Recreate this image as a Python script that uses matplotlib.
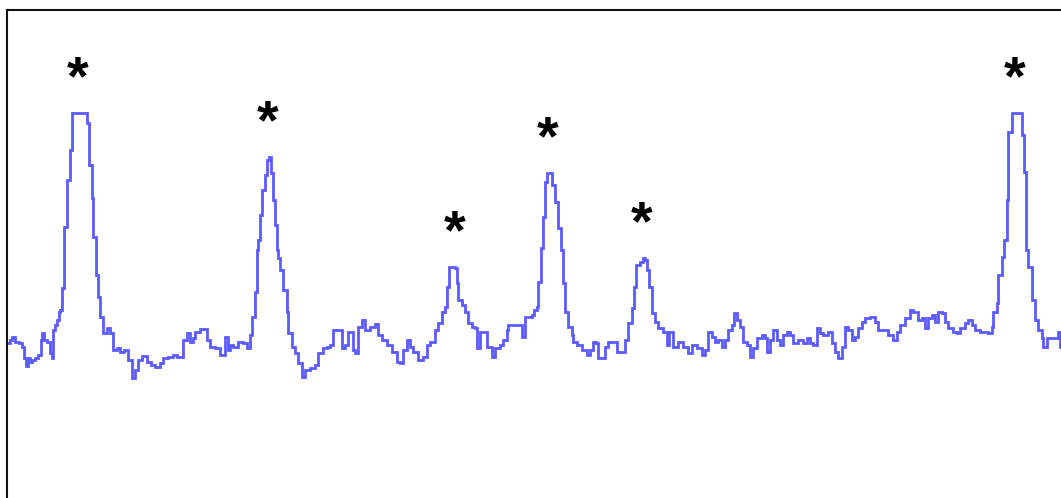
import numpy as np
import matplotlib
matplotlib.use("Agg")
import matplotlib.pyplot as plt

# Channel positions where the recorded intensity changes (step trace)
channel = [
    7, 10, 12, 15, 19, 22, 24, 26, 28, 30, 32, 35, 38, 41, 42, 44, 47, 50, 52, 53,
    55, 57, 59, 60, 62, 64, 67, 70, 72, 78, 85, 87, 89, 92, 93, 96, 98, 100, 103, 107,
    110, 113, 117, 120, 124, 128, 132, 135, 138, 142, 147, 151, 155, 160, 163, 168, 173, 177, 180, 183,
    187, 190, 193, 195, 200, 203, 207, 210, 215, 220, 225, 228, 230, 233, 238, 243, 247, 250, 252, 255,
    257, 258, 260, 262, 265, 267, 269, 271, 273, 275, 277, 278, 280, 283, 287, 288, 292, 295, 298, 302,
    305, 310, 315, 318, 323, 327, 330, 333, 338, 342, 345, 348, 350, 353, 355, 358, 362, 365, 370, 375,
    378, 382, 387, 392, 397, 400, 403, 407, 410, 413, 418, 423, 427, 430, 435, 438, 442, 445, 447, 449,
    455, 457, 458, 462, 465, 468, 472, 475, 477, 480, 485, 487, 492, 495, 500, 503, 507, 508, 513, 520,
    522, 525, 532, 534, 537, 538, 541, 543, 545, 547, 550, 552, 555, 558, 561, 563, 565, 568, 572, 573,
    577, 582, 587, 590, 593, 596, 598, 603, 605, 608, 613, 617, 622, 625, 628, 632, 634, 636, 640, 643,
    645, 647, 649, 652, 655, 658, 663, 667, 669, 673, 678, 683, 688, 692, 697, 702, 705, 708, 712, 715,
    718, 722, 725, 728, 732, 734, 737, 740, 743, 747, 750, 753, 757, 762, 765, 767, 770, 773, 777, 780,
    783, 787, 790, 793, 798, 803, 807, 810, 813, 817, 820, 823, 828, 832, 835, 838, 842, 845, 848, 852,
    855, 858, 862, 865, 870, 875, 878, 883, 888, 893, 897, 900, 905, 910, 913, 918, 922, 925, 928, 932,
    935, 938, 942, 945, 948, 953, 957, 960, 965, 968, 972, 975, 980, 985, 988, 992, 993, 997, 998, 1002,
    1004, 1007, 1008, 1012, 1019, 1022, 1024, 1026, 1028, 1032, 1035, 1038, 1042, 1043, 1047, 1053, 1058, 1060, 1064,
]

# Intensity recorded at each channel (arbitrary units)
intensity = [
    57, 60, 63, 58, 57, 53, 42, 34, 42, 38, 40, 42, 45, 60, 67, 60, 58, 47, 42, 70,
    75, 80, 88, 90, 112, 173, 220, 250, 287, 287, 287, 277, 235, 202, 163, 125, 103, 83, 67, 72,
    67, 50, 52, 48, 50, 40, 22, 30, 40, 44, 38, 35, 33, 37, 42, 43, 45, 43, 43, 60,
    67, 58, 62, 68, 71, 71, 60, 53, 52, 45, 63, 50, 55, 53, 58, 57, 52, 65, 83, 108,
    150, 160, 185, 210, 225, 240, 243, 227, 200, 175, 150, 142, 130, 110, 88, 67, 53, 47, 37, 23,
    30, 32, 35, 47, 52, 53, 55, 70, 70, 52, 55, 68, 68, 50, 47, 73, 80, 70, 73, 76,
    65, 60, 55, 48, 38, 37, 50, 60, 53, 48, 40, 43, 55, 58, 70, 77, 88, 93, 113, 133,
    132, 117, 100, 95, 88, 77, 73, 72, 52, 68, 68, 53, 43, 52, 55, 60, 70, 75, 75, 75,
    63, 83, 85, 90, 93, 118, 152, 183, 218, 227, 227, 215, 198, 172, 150, 117, 88, 73, 65, 58,
    55, 50, 45, 50, 58, 57, 42, 42, 53, 58, 58, 48, 48, 60, 77, 92, 113, 135, 138, 142,
    140, 130, 113, 87, 78, 72, 68, 55, 68, 53, 58, 53, 47, 55, 52, 45, 50, 68, 63, 58,
    60, 53, 60, 70, 75, 87, 80, 73, 58, 55, 43, 52, 62, 65, 62, 48, 60, 70, 60, 55,
    65, 68, 65, 57, 60, 57, 62, 57, 55, 72, 67, 65, 68, 57, 48, 42, 53, 73, 70, 60,
    63, 72, 78, 82, 83, 78, 70, 70, 65, 60, 68, 75, 82, 90, 88, 80, 82, 72, 82, 85,
    78, 88, 87, 78, 72, 68, 67, 72, 77, 80, 75, 70, 68, 68, 67, 73, 88, 97, 125, 143,
    160, 200, 268, 287, 287, 265, 228, 150, 133, 100, 80, 70, 62, 53, 62, 62, 68, 53, 55,
]

# Channels of the marked peaks
peak_channels = [78, 268, 455, 548, 642, 1015]

W, H = 1061, 498
fig = plt.figure(figsize=(W / 100, H / 100), dpi=100)
# Frame runs past the right and bottom edges of the figure
x0, x1 = 7, 1078
y_top, y_bot = 10, 525
ax = fig.add_axes([x0 / W, 1 - y_bot / H, (x1 - x0) / W, (y_bot - y_top) / H])
ax.set_xlim(x0, x1)
ax.set_ylim(400 - y_bot, 400 - y_top)

ch = np.asarray(channel, dtype=float)
val = np.asarray(intensity, dtype=float)
ax.step(ch, val, where="post", color="#5b5bff", lw=2.0, solid_joinstyle="miter")

for pc in peak_channels:
    idx = np.searchsorted(ch, pc, side="right") - 1
    lo, hi = max(idx - 2, 0), min(idx + 3, len(val))
    top = val[lo:hi].max()
    ax.annotate("*", xy=(pc, top), xytext=(0, 23.8), textcoords="offset points",
                ha="center", va="center", fontsize=40, fontweight="bold",
                family="Liberation Sans", color="black")

ax.set_xticks([])
ax.set_yticks([])
for s in ax.spines.values():
    s.set_linewidth(1.5)
    s.set_color("#111111")

fig.savefig("out.png", dpi=100)
